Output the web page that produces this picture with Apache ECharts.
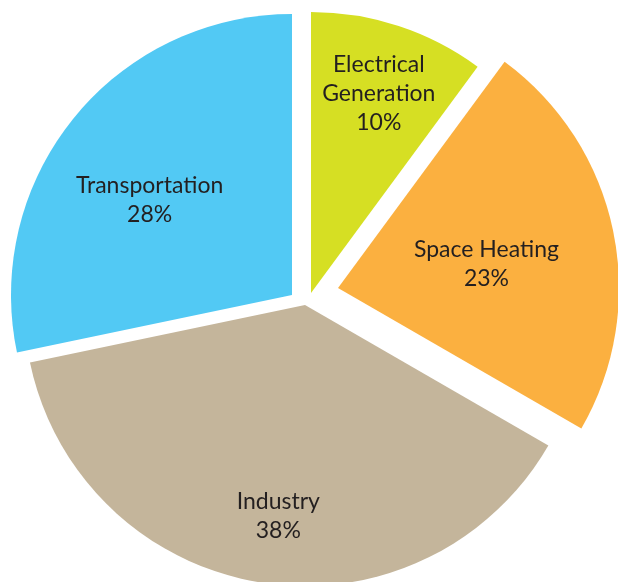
<!DOCTYPE html>
<html>
<head>
<meta charset="utf-8">
<script src="https://cdn.jsdelivr.net/npm/echarts@6/dist/echarts.min.js"></script>
<style>
html,body{margin:0;padding:0;background:#fff;}
#chart{width:618px;height:582px;}
</style>
</head>
<body>
<div id="chart"></div>
<script>
// Data
const categories = ['Electrical\nGeneration', 'Space Heating', 'Industry', 'Transportation'];
const values = [10, 23, 38, 28];

// Styles / layout (per slice)
const colors = ['#d6df23', '#fbb040', '#c4b59b', '#52c9f4'];
const sliceCenters = [[311, 293], [338, 288], [305, 305], [292, 295]];
const labelOffsets = [[23, -63], [8, 5], [-4, 69], [-31, -4]];
const RADIUS = 281;

const total = values.reduce((a, b) => a + b, 0);
const chart = echarts.init(document.getElementById('chart'));

let cum = 0;
const series = values.map((v, i) => {
  const startClock = cum / total * 360;
  cum += v;
  return {
    type: 'pie',
    center: sliceCenters[i],
    radius: RADIUS,
    startAngle: 90 - startClock,
    clockwise: true,
    animation: false,
    silent: true,
    avoidLabelOverlap: false,
    emphasis: { disabled: true },
    labelLine: { show: false },
    itemStyle: { borderWidth: 0 },
    data: [
      {
        name: categories[i],
        value: v,
        itemStyle: { color: colors[i], borderWidth: 0 },
        label: {
          show: true,
          position: 'inside',
          rotate: 0,
          offset: labelOffsets[i],
          formatter: (p) => p.name + '\n' + p.value + '%',
          fontFamily: 'Lato',
          fontSize: 23,
          lineHeight: 29,
          color: '#231f20',
          textBorderWidth: 0
        }
      },
      {
        name: '',
        value: total - v,
        itemStyle: { color: 'rgba(0,0,0,0)', borderWidth: 0 },
        label: { show: false },
        labelLine: { show: false }
      }
    ]
  };
});

chart.setOption({
  backgroundColor: '#ffffff',
  animation: false,
  series: series
});
</script>
</body>
</html>
